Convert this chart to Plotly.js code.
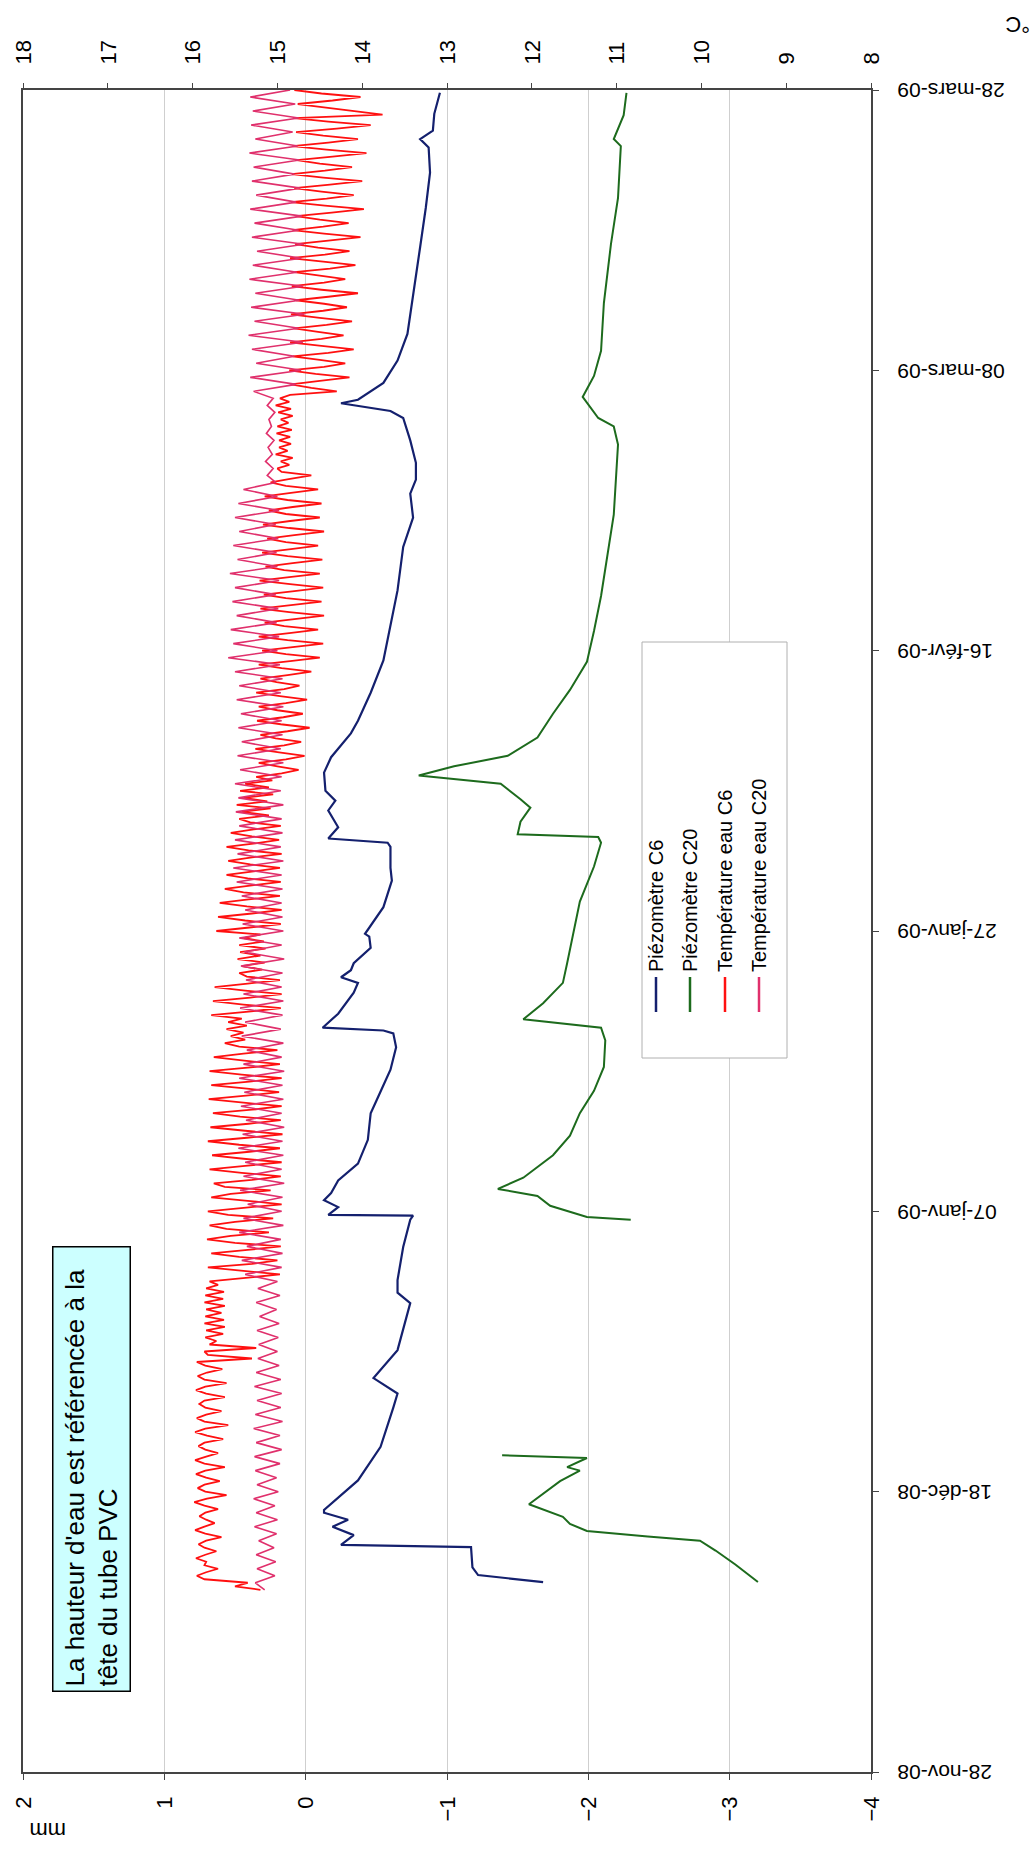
<!DOCTYPE html>
<html><head><meta charset="utf-8">
<script src="https://cdn.plot.ly/plotly-3.0.1.min.js"></script>
<style>
html,body{margin:0;padding:0;width:1034px;height:1863px;overflow:hidden;background:#fff}
#wrap{position:absolute;left:0;top:0;width:1863px;height:1034px;transform-origin:0 0;transform:translate(0px,1863px) rotate(-90deg);}
#chart{width:1863px;height:1034px}
</style></head><body><div id="wrap"><div id="chart"></div></div>
<script>
// ---------- data (days counted from 28-nov-08) ----------
const refDate = '2008-11-28';
const dateTickVals = ['2008-11-28','2008-12-18','2009-01-07','2009-01-27','2009-02-16','2009-03-08','2009-03-28'];
const dateTickText = ['28-nov-08','18-déc-08','07-janv-09','27-janv-09','16-févr-09','08-mars-09','28-mars-09'];
const seriesNames = ['Piézomètre C6','Piézomètre C20','Température eau C6','Température eau C20'];

const c6Day = [13.55,14.05,14.6,16.05,16.2,16.9,17.5,18.0,18.5,18.7,20.8,23.2,26.0,27.0,28.1,30.1,33.45,34.2,35.1,37.45,39.4,39.7,39.75,40.3,40.8,41.3,42.2,43.4,45.1,47.0,48.1,50.1,51.7,52.7,52.9,53.1,54.1,55.6,56.3,56.7,57.2,57.7,58.8,59.6,59.8,61.7,63.6,64.5,66.0,66.3,66.6,67.4,68.6,69.3,70.0,71.3,72.4,74.1,75.0,77.0,79.3,81.7,84.3,87.4,89.5,91.2,92.2,93.4,95.0,96.6,97.1,97.65,97.9,99.1,100.7,102.6,105.5,108.8,111.6,114.1,115.9,116.5,117.1,118.3,119.8];
const c6Val = [-1.68,-1.22,-1.18,-1.17,-0.25,-0.34,-0.19,-0.30,-0.13,-0.13,-0.37,-0.53,-0.62,-0.65,-0.48,-0.65,-0.74,-0.65,-0.65,-0.69,-0.74,-0.76,-0.16,-0.23,-0.13,-0.18,-0.23,-0.37,-0.44,-0.46,-0.51,-0.60,-0.64,-0.62,-0.55,-0.12,-0.23,-0.34,-0.37,-0.25,-0.32,-0.34,-0.46,-0.45,-0.42,-0.55,-0.61,-0.60,-0.60,-0.58,-0.16,-0.23,-0.16,-0.21,-0.14,-0.13,-0.18,-0.32,-0.37,-0.46,-0.55,-0.60,-0.65,-0.69,-0.76,-0.74,-0.78,-0.78,-0.74,-0.69,-0.60,-0.25,-0.37,-0.55,-0.65,-0.72,-0.76,-0.81,-0.85,-0.88,-0.87,-0.81,-0.90,-0.91,-0.95];

const c20DayA = [13.55,14.8,15.8,16.5,16.8,17.2,17.7,18.2,19.1,20.75,21.5,21.75,22.4,22.6];
const c20ValA = [-3.20,-3.04,-2.90,-2.79,-2.42,-1.99,-1.87,-1.82,-1.58,-1.80,-1.94,-1.85,-1.99,-1.39];
const c20DayB = [39.4,39.6,40.4,41.1,41.6,42.4,44.0,45.4,47.0,48.6,50.3,52.2,53.1,53.7,54.85,56.3,57.7,62.1,64.6,66.3,66.7,66.9,67.8,68.8,69.4,70.5,71.1,71.75,72.5,73.8,75.5,77.2,79.2,81.4,83.9,87.2,89.7,94.7,96.0,96.6,98.1,99.6,101.4,104.8,109.0,112.3,116.0,116.5,118.2,119.8];
const c20ValB = [-2.30,-1.99,-1.73,-1.64,-1.36,-1.54,-1.75,-1.87,-1.94,-2.04,-2.11,-2.12,-2.09,-1.54,-1.68,-1.82,-1.85,-1.94,-2.04,-2.09,-2.07,-1.50,-1.52,-1.59,-1.52,-1.38,-0.80,-1.05,-1.43,-1.64,-1.75,-1.87,-1.99,-2.04,-2.09,-2.14,-2.18,-2.21,-2.18,-2.07,-1.96,-2.04,-2.09,-2.11,-2.16,-2.21,-2.23,-2.18,-2.25,-2.27];

// Température eau C6: one reading every 6 h from day 13 (11-déc-08 00:00)
const tempC6StartDay = 13, tempC6StepDays = 0.25;
const tempC6 = [
15.20,15.50,15.35,15.86, 15.95,15.84,15.70,15.86, 15.84,15.96,15.85,15.72, 15.86,15.93,15.84,15.66,
15.85,15.97,15.86,15.74, 15.84,15.92,15.85,15.70, 15.86,15.98,15.83,15.60, 15.85,15.94,15.86,15.68,
15.84,15.96,15.85,15.62, 15.86,15.97,15.84,15.70, 15.85,15.93,15.86,15.64, 15.83,15.97,15.85,15.58,
15.86,15.95,15.84,15.66, 15.85,15.92,15.86,15.62, 15.84,15.96,15.85,15.60, 15.86,15.94,15.83,15.65,
15.85,15.95,15.30,15.82, 15.86,15.25,15.80,15.72, 15.85,15.64,15.84,15.62, 15.86,15.63,15.85,15.66,
15.84,15.62,15.86,15.64, 15.85,15.63,15.84,15.70,
15.80,15.35,14.97,15.40, 15.82,15.30,15.00,15.45, 15.78,15.35,14.96,15.50, 15.83,15.55,15.10,15.60,
15.80,15.50,15.05,15.58, 15.82,15.40,14.95,15.35, 15.78,15.55,15.08,15.62, 15.75,15.30,14.96,15.42,
15.80,15.38,14.95,15.40, 15.77,15.33,14.97,15.45, 15.82,15.36,14.94,15.38, 15.79,15.34,14.96,15.44,
15.76,15.30,14.95,15.40, 15.81,15.37,14.98,15.36, 15.78,15.33,14.95,15.42, 15.80,15.35,14.97,15.39,
15.75,15.40,15.00,15.45, 15.62,15.38,15.55,15.40, 15.60,15.36,15.58,15.42, 15.78,15.34,14.96,15.40,
15.76,15.32,14.95,15.38, 15.74,15.35,14.97,15.36, 15.45,15.18,15.42,15.15, 15.47,15.20,15.44,15.14,
15.45,15.16,15.40,15.20, 15.72,15.33,14.96,15.38, 15.70,15.30,14.95,15.36, 15.68,15.34,14.97,15.40,
15.62,15.30,14.96,15.35, 15.60,15.28,14.97,15.32, 15.58,15.30,14.95,15.34, 15.60,15.26,14.98,15.30,
15.55,15.28,14.96,15.32, 15.45,15.10,15.42,15.08, 15.48,15.12,15.40,15.05, 15.44,15.10,15.38,15.06,
15.25,14.95,14.75,15.00, 15.22,14.90,14.68,14.98, 15.26,14.92,14.72,15.02, 15.20,14.88,14.62,14.96,
15.24,14.93,14.70,15.00, 15.22,14.90,14.65,14.97, 15.25,14.92,14.74,15.01, 15.20,14.88,14.60,14.95,
15.22,14.85,14.50,14.90, 15.18,14.82,14.46,14.88, 15.22,14.86,14.52,14.92, 15.15,14.80,14.45,14.86,
15.20,14.84,14.48,14.90, 15.16,14.80,14.46,14.85, 15.21,14.86,14.50,14.92, 15.14,14.82,14.47,14.88,
15.18,14.84,14.52,14.90, 15.12,14.80,14.45,14.86, 15.17,14.85,14.50,14.90, 15.10,14.82,14.48,14.88,
15.15,14.84,14.52,14.90, 15.08,14.85,14.60,14.95,
15.00,14.86,14.96,14.82, 15.02,14.88,14.98,14.84, 14.98,14.85,15.01,14.83, 15.00,14.87,14.96,14.82,
14.99,14.84,15.02,14.86, 14.97,14.85,14.30,14.60,
14.84,14.50,14.15,14.55, 14.86,14.45,14.20,14.50, 14.82,14.40,14.10,14.48, 14.85,14.48,14.22,14.52,
14.80,14.42,14.12,14.50, 14.84,14.46,14.18,14.45, 14.78,14.40,14.05,14.48, 14.83,14.45,14.20,14.50,
14.80,14.38,14.08,14.46, 14.85,14.44,14.15,14.52, 14.79,14.40,14.02,14.45, 14.82,14.46,14.16,14.50,
14.78,14.36,13.98,14.44, 14.84,14.42,14.10,14.48, 14.80,14.38,14.00,14.46, 14.83,14.44,14.12,14.50,
14.77,14.35,13.95,14.42, 14.82,14.40,14.05,14.46, 14.78,14.30,13.90,14.40, 14.80,13.76,14.10,14.45,
14.76,14.35,14.02,14.48, 14.80];

// Température eau C20: one reading every 12 h from day 13
const tempC20StartDay = 13, tempC20StepDays = 0.5;
const tempC20 = [
15.15,15.26,15.03,15.24,15.02,15.25,15.04,15.22,15.01,15.27,
15.00,15.25,15.03,15.28,14.99,15.24,15.01,15.26,14.97,15.27,
14.95,15.25,14.97,15.28,14.94,15.26,14.96,15.24,14.95,15.27,
14.96,15.25,14.98,15.23,
15.00,15.22,14.99,15.24,14.98,15.21,15.01,15.25,14.97,15.23,
15.00,15.38,14.95,15.42,14.94,15.36,14.96,15.45,14.93,15.40,
14.95,15.35,14.94,15.44,14.92,15.40,14.95,15.38,14.93,15.46,
14.94,15.41,14.92,15.37,14.95,15.43,14.93,15.39,14.94,15.45,
14.92,15.40,14.95,15.36,14.93,15.42,14.96,15.38,14.94,15.44,
14.93,15.40,14.95,15.37,14.94,15.43,14.92,15.39,14.95,15.45,
14.93,15.41,14.94,15.38,14.95,15.42,
14.94,15.48,14.95,15.52,14.93,15.47,14.96,15.50,14.94,15.45,14.95,15.49,14.93,15.46,14.96,15.50,
14.95,15.44,14.93,15.47,14.96,15.42,14.94,15.46,14.95,15.43,14.93,15.48,14.96,15.45,14.94,15.50,
14.97,15.58,15.00,15.52,14.98,15.55,15.01,15.48,14.99,15.53,
15.02,15.50,14.98,15.56,15.00,15.47,15.01,15.52,14.99,15.45,
15.02,15.50,14.98,15.46,15.00,15.40,15.02,
15.12,15.05,15.14,15.06,15.11,15.04,15.13,15.07,15.10,15.03,15.12,15.05,
15.28,14.78,15.32,14.72,15.25,14.80,15.30,14.70,15.34,14.75,
15.27,14.68,15.31,14.74,15.26,14.70,15.33,14.77,15.29,14.72,
15.24,14.69,15.30,14.75,15.27,14.71,15.32,14.78,15.25,14.73,
15.30,14.80,15.28,14.74,15.33,14.76,15.26,14.82,15.31,14.75,
15.29,14.79,15.32,14.85];

const seriesColors = ['#14206e','#1d6b1d','#ff1010','#e0306c'];

// ---------- helpers ----------
const T0 = Date.parse(refDate + 'T00:00:00Z');
function dayStr(d){ return new Date(T0 + Math.round(d*86400000)).toISOString().replace('T',' ').slice(0,19); }
const tempC6X = tempC6.map((_, i) => dayStr(tempC6StartDay + i*tempC6StepDays));
const tempC20X = tempC20.map((_, i) => dayStr(tempC20StartDay + i*tempC20StepDays));

const FONT = 'Liberation Sans, Arial, sans-serif';
const traces = [
  {x: c6Day.map(dayStr), y: c6Val, name: seriesNames[0], mode:'lines', line:{color:seriesColors[0], width:2.2}, yaxis:'y'},
  {x: c20DayA.map(dayStr), y: c20ValA, name: seriesNames[1], mode:'lines', line:{color:seriesColors[1], width:2}, yaxis:'y'},
  {x: c20DayB.map(dayStr), y: c20ValB, name: seriesNames[1], mode:'lines', line:{color:seriesColors[1], width:2}, yaxis:'y'},
  {x: tempC6X, y: tempC6, name: seriesNames[2], mode:'lines', line:{color:seriesColors[2], width:1.8}, yaxis:'y2'},
  {x: tempC20X, y: tempC20, name: seriesNames[3], mode:'lines', line:{color:seriesColors[3], width:1.6}, yaxis:'y2'}
];
traces.forEach(t => t.showlegend = false);

// manual legend (paper coordinates of the original, unrotated chart)
const W = 1682, H = 848, L = 91, TOP = 23;
const px = X => (X - L)/W, py = Y => 1 - (Y - TOP)/H;
const legendY = [656, 690, 725, 759];
const shapes = [
  {type:'rect', xref:'paper', yref:'paper', x0:px(805), x1:px(1221), y0:py(642), y1:py(787), line:{color:'#b0b0b0', width:1}, fillcolor:'#ffffff', layer:'above'}
];
const annotations = [];
seriesNames.forEach((n, i) => {
  shapes.push({type:'line', xref:'paper', yref:'paper', x0:px(851), x1:px(886), y0:py(legendY[i]), y1:py(legendY[i]), line:{color:seriesColors[i], width:2.5}, layer:'above'});
  annotations.push({xref:'paper', yref:'paper', x:px(889), y:py(legendY[i]), xanchor:'left', yanchor:'middle', text:n, showarrow:false, font:{family:FONT, size:20, color:'#000'}});
});
annotations.push({xref:'paper', yref:'paper', x:px(171), y:py(52), xanchor:'left', yanchor:'top', align:'left',
  text:"La hauteur d'eau est référencée à la<br>tête du tube PVC", showarrow:false,
  font:{family:FONT, size:26, color:'#000'}, bgcolor:'#ccffff', bordercolor:'#000', borderwidth:1.5, borderpad:4, width:435, height:68});
annotations.push({xref:'paper', yref:'paper', x:px(33), y:py(48), xanchor:'center', yanchor:'middle', text:'mm', showarrow:false, textangle:-90, font:{family:FONT, size:22, color:'#000'}});
annotations.push({xref:'paper', yref:'paper', x:px(1838), y:py(1018), xanchor:'center', yanchor:'middle', text:'°C', showarrow:false, textangle:-90, font:{family:FONT, size:22, color:'#000'}});

const layout = {
  width: 1863, height: 1034,
  margin: {l: L, r: 90, t: TOP, b: 163, pad: 0},
  paper_bgcolor:'#ffffff', plot_bgcolor:'#ffffff',
  font: {family: FONT, size: 21, color:'#000'},
  showlegend: false,
  xaxis: {type:'date', range:['2008-11-28','2009-03-28'], tickmode:'array', tickvals:dateTickVals, ticktext:dateTickText,
          tickangle:-90, ticks:'outside', ticklen:6, tickcolor:'#444', showgrid:false, zeroline:false,
          showline:true, mirror:true, linecolor:'#444', linewidth:2, ticklabelstandoff:10, automargin:false,
          tickfont:{family:FONT, size:21}},
  yaxis: {range:[-4,2], dtick:1, tick0:0, ticks:'outside', ticklen:6, tickcolor:'#444', showgrid:true, gridcolor:'#cfcfcf', gridwidth:1,
          zeroline:false, showline:true, mirror:true, linecolor:'#444', linewidth:2, ticklabelstandoff:12, automargin:false,
          tickfont:{family:FONT, size:22}},
  yaxis2: {range:[8,18], dtick:1, tick0:8, overlaying:'y', side:'right', ticks:'outside', ticklen:6, tickcolor:'#444', showgrid:false,
          zeroline:false, showline:false, ticklabelstandoff:14, automargin:false, tickfont:{family:FONT, size:22}},
  shapes: shapes,
  annotations: annotations
};
Plotly.newPlot('chart', traces, layout, {staticPlot:true, displayModeBar:false});
</script></body></html>
